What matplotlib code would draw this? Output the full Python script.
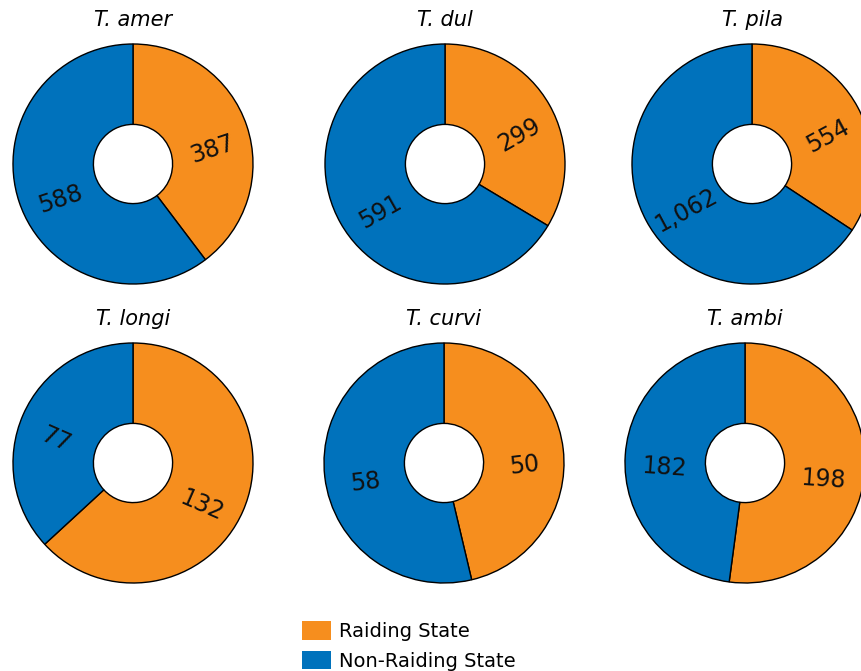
import numpy as np
import matplotlib
matplotlib.use('Agg')
from matplotlib import pyplot as plt
from matplotlib.patches import Patch

# species names and counts per state
species = ['T. amer', 'T. dul', 'T. pila', 'T. longi', 'T. curvi', 'T. ambi']
raiding = [387, 299, 554, 132, 50, 198]
non_raiding = [588, 591, 1062, 77, 58, 182]
legend_labels = ['Raiding State', 'Non-Raiding State']

orange = '#F68E1E'
blue = '#0072BC'

W, H = 861, 671
fig = plt.figure(figsize=(W / 100, H / 100), dpi=100)

#pie centres in pixels (from top-left), radius 120 px
centres = [(133, 164), (445, 164), (752, 164),
           (133, 463), (444, 463), (745, 463)]
R = 120

for name, r_val, n_val, (cx, cy) in zip(species, raiding, non_raiding, centres):
    ax = fig.add_axes([(cx - R) / W, (H - cy - R) / H, 2 * R / W, 2 * R / H])
    wedges, _ = ax.pie([r_val, n_val], colors=[orange, blue], startangle=90,
                       counterclock=False, radius=1,
                       wedgeprops=dict(width=0.67, edgecolor='black', linewidth=1))
    #labels sit a little off the wedge middle (orange clockwise, blue anticlockwise)
    for w, v, shift in zip(wedges, [r_val, n_val], [-8, 7]):
        mid = (w.theta1 + w.theta2) / 2.0
        mid = (mid + 180) % 360 - 180
        rot = mid
        if rot > 90:
            rot -= 180
        elif rot < -90:
            rot += 180
        ang = np.radians(mid + shift)
        x = 0.67 * np.cos(ang)
        y = 0.67 * np.sin(ang)
        ax.text(x, y, '{:,}'.format(v), rotation=rot, ha='center', va='center',
                fontsize=17, color='#111111', rotation_mode='anchor')
    ax.text(0, 1.2, name, ha='center', va='center', fontsize=15, style='italic')
    ax.set_xlim(-1, 1)
    ax.set_ylim(-1, 1)
    ax.set_aspect('equal')
    ax.axis('off')

handles = [Patch(facecolor=orange, edgecolor='none'),
           Patch(facecolor=blue, edgecolor='none')]
fig.legend(handles, legend_labels, loc='upper left',
           bbox_to_anchor=(302 / W, (H - 621) / H), frameon=False,
           fontsize=14, handlelength=1.5, handleheight=1.1,
           handletextpad=0.4, labelspacing=0.5, borderpad=0, borderaxespad=0)

fig.savefig('out.png', dpi=100)
